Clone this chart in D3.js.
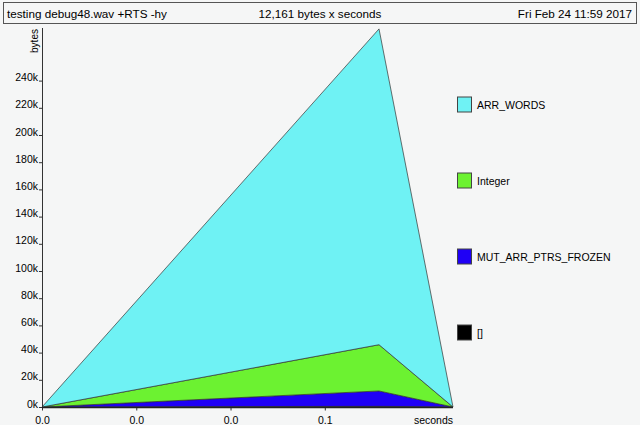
<!DOCTYPE html>
<html>
<head>
<meta charset="utf-8">
<script src="https://cdn.jsdelivr.net/npm/d3@7"></script>
<style>
  html, body { margin: 0; padding: 0; background: #f5f6f6; }
  svg { display: block; font-family: "Liberation Sans", Arial, Helvetica, sans-serif; }
</style>
</head>
<body>
<svg id="chart" width="640" height="425"></svg>
<script>
// ---- data ----
const times = [0, 0.0715, 0.0872];
const seriesNames = ["[]", "MUT_ARR_PTRS_FROZEN", "Integer", "ARR_WORDS"]; // bottom to top
const emptyList = [0, 500, 0];
const mutArrPtrsFrozen = [0, 11300, 0];
const integerVals = [0, 34000, 0];
const arrWords = [0, 232200, 0];
const xTicks = [0, 0.02, 0.04, 0.06];
const yTicks = [0, 20000, 40000, 60000, 80000, 100000, 120000, 140000, 160000, 180000, 200000, 220000, 240000];
const legendOrder = ["ARR_WORDS", "Integer", "MUT_ARR_PTRS_FROZEN", "[]"];
const colors = { "[]": "#000000", "MUT_ARR_PTRS_FROZEN": "#1f00f5", "Integer": "#6cf231", "ARR_WORDS": "#6ff2f4" };
const titleLeft = "testing debug48.wav +RTS -hy";
const titleCenter = "12,161 bytes x seconds";
const titleRight = "Fri Feb 24 11:59 2017";

const valuesByName = {
  "[]": emptyList,
  "MUT_ARR_PTRS_FROZEN": mutArrPtrsFrozen,
  "Integer": integerVals,
  "ARR_WORDS": arrWords
};
const table = times.map((t, i) => {
  const row = { t };
  seriesNames.forEach(n => row[n] = valuesByName[n][i]);
  return row;
});

const svg = d3.select("#chart");

// title box
svg.append("rect").attr("x", 3.5).attr("y", 2.5).attr("width", 633).attr("height", 21)
  .attr("fill", "none").attr("stroke", "#555").attr("stroke-width", 1);
const tfs = 11.7;
svg.append("text").attr("x", 7).attr("y", 17.5).attr("font-size", tfs).text(titleLeft);
svg.append("text").attr("x", 320).attr("y", 17.5).attr("font-size", tfs).attr("text-anchor", "middle").text(titleCenter);
svg.append("text").attr("x", 632).attr("y", 17.5).attr("font-size", tfs).attr("text-anchor", "end").text(titleRight);

// scales
const x = d3.scaleLinear().domain([0, 0.0872]).range([42, 453]);
const y = d3.scaleLinear().domain([0, 280000]).range([407, 26.2]);

// stacked areas
const stack = d3.stack().keys(seriesNames);
const layers = stack(table);
const area = d3.area()
  .x(d => x(d.data.t))
  .y0(d => y(d[0]))
  .y1(d => y(d[1]));
svg.append("g").selectAll("path").data(layers).join("path")
  .attr("d", area)
  .attr("fill", d => colors[d.key])
  .attr("stroke", "#333")
  .attr("stroke-width", 0.7)
  .attr("stroke-linejoin", "round");

// axes
const yAxis = d3.axisLeft(y).tickValues(yTicks).tickSize(3).tickPadding(1)
  .tickFormat(d => (d / 1000) + "k");
const gy = svg.append("g").attr("transform", "translate(42,0)").call(yAxis);
gy.select(".domain").remove();
gy.selectAll("text").attr("font-size", 10.5).attr("dy", "0").attr("fill", "#000");
gy.selectAll("line").attr("stroke", "#333");
svg.append("line").attr("x1", 42.5).attr("x2", 42.5).attr("y1", 28).attr("y2", 408)
  .attr("stroke", "#333").attr("stroke-width", 1);

const xAxis = d3.axisBottom(x).tickValues(xTicks).tickSize(3).tickPadding(6)
  .tickFormat(d3.format(".1f"));
const gx = svg.append("g").attr("transform", "translate(0,407.5)").call(xAxis);
gx.select(".domain").remove();
gx.selectAll("text").attr("font-size", 10.5).attr("fill", "#000");
gx.selectAll("line").attr("stroke", "#333");
svg.append("line").attr("x1", 42).attr("x2", 453).attr("y1", 407.5).attr("y2", 407.5)
  .attr("stroke", "#222").attr("stroke-width", 1.4);
svg.append("text").attr("x", 453).attr("y", 424).attr("font-size", 10.5).attr("text-anchor", "end").text("seconds");

// y label
svg.append("text").attr("transform", "translate(38,41) rotate(-90)")
  .attr("font-size", 10).attr("text-anchor", "middle").text("bytes");

// legend
const legY = d3.scalePoint().domain(legendOrder).range([104.5, 332.5]);
const lg = svg.append("g").selectAll("g").data(legendOrder).join("g")
  .attr("transform", d => `translate(457,${legY(d)})`);
lg.append("rect").attr("x", 0.5).attr("y", -7.5).attr("width", 14).attr("height", 15)
  .attr("fill", d => colors[d]).attr("stroke", "#444").attr("stroke-width", 1);
lg.append("text").attr("x", 20).attr("y", 4).attr("font-size", 10.5).text(d => d);
</script>
</body>
</html>
